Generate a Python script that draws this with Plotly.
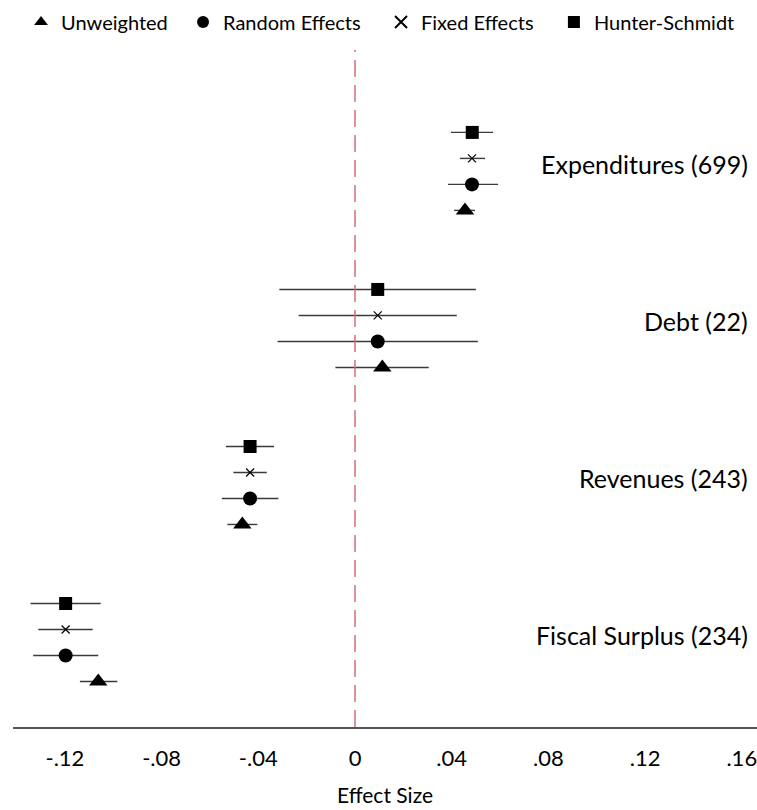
import plotly.graph_objects as go

# ---- data ----
categories = ["Fiscal Surplus (234)", "Revenues (243)", "Debt (22)", "Expenditures (699)"]
methods = ["Unweighted", "Random Effects", "Fixed Effects", "Hunter-Schmidt"]

# point estimates per method, ordered as categories
est = {
    "Unweighted":     [-0.1062, -0.0466, 0.0113, 0.0455],
    "Random Effects": [-0.1197, -0.0434, 0.0094, 0.0484],
    "Fixed Effects":  [-0.1197, -0.0434, 0.0094, 0.0484],
    "Hunter-Schmidt": [-0.1197, -0.0434, 0.0094, 0.0485],
}
lower = {
    "Unweighted":     [-0.1138, -0.0528, -0.0081, 0.0410],
    "Random Effects": [-0.1331, -0.0551, -0.0320, 0.0385],
    "Fixed Effects":  [-0.1310, -0.0503, -0.0233, 0.0434],
    "Hunter-Schmidt": [-0.1342, -0.0534, -0.0313, 0.0397],
}
upper = {
    "Unweighted":     [-0.0983, -0.0404, 0.0305, 0.0496],
    "Random Effects": [-0.1062, -0.0317, 0.0508, 0.0592],
    "Fixed Effects":  [-0.1085, -0.0365, 0.0421, 0.0538],
    "Hunter-Schmidt": [-0.1052, -0.0335, 0.0500, 0.0571],
}
tick_vals = [-0.12, -0.08, -0.04, 0, 0.04, 0.08, 0.12, 0.16]
tick_text = ["-.12", "-.08", "-.04", "0", ".04", ".08", ".12", ".16"]

# ---- styles ----
sym = {"Unweighted": "triangle-up", "Random Effects": "circle",
       "Fixed Effects": "x-thin-open", "Hunter-Schmidt": "square"}
size = {"Unweighted": 16, "Random Effects": 14, "Fixed Effects": 8, "Hunter-Schmidt": 13}
legend_pad = {"Unweighted": 2, "Random Effects": 3, "Fixed Effects": 3, "Hunter-Schmidt": 0}
FONT = "Lato"
GROUP_STEP = 6.04
BASE = 1.75

fig = go.Figure()
for k, m in enumerate(methods):
    ys = [BASE + g * GROUP_STEP + k for g in range(len(categories))]
    xs = est[m]
    plus = [u - x for u, x in zip(upper[m], xs)]
    minus = [x - l for x, l in zip(xs, lower[m])]
    marker = dict(symbol=sym[m], size=size[m], color="black")
    if m == "Fixed Effects":
        marker["line"] = dict(width=1.2, color="black")
    fig.add_trace(go.Scatter(
        x=xs, y=ys, mode="markers", name=m + "\u00a0" * legend_pad[m], marker=marker,
        error_x=dict(type="data", symmetric=False, array=plus, arrayminus=minus,
                     width=0, thickness=1.4, color="#3a3a3a"),
    ))

for g, c in enumerate(categories):
    fig.add_annotation(x=0.9906, xref="paper", y=BASE + g * GROUP_STEP + 1.78, yref="y",
                       text=c, showarrow=False, xanchor="right",
                       font=dict(family=FONT, size=25, color="black"))

fig.add_shape(type="line", x0=0, x1=0, xref="x", y0=0, y1=1, yref="paper",
              line=dict(color="rgb(214,110,122)", width=1.5, dash="17px,8px"))

fig.update_layout(
    width=757, height=810,
    margin=dict(l=13, r=0, t=50, b=83),
    paper_bgcolor="white", plot_bgcolor="white",
    font=dict(family=FONT, size=20, color="black"),
    showlegend=True,
    legend=dict(orientation="h", x=0.0108, xanchor="left", y=1.0414, yanchor="middle",
                font=dict(family=FONT, size=20), itemsizing="constant",
                bgcolor="rgba(0,0,0,0)"),
    xaxis=dict(range=[-0.14147, 0.16629], tickvals=tick_vals, ticktext=tick_text,
               showgrid=False, zeroline=False, showline=True, linecolor="#555555",
               linewidth=1.5, ticks="", ticklen=0, automargin=False,
               ticklabelstandoff=11, ticklabeloverflow="allow",
               tickfont=dict(family=FONT, size=22),
               title=dict(text="Effect Size", font=dict(family=FONT, size=21), standoff=18)),
    yaxis=dict(range=[0, 26.04], showgrid=False, zeroline=False, showline=False,
               showticklabels=False, ticks="", automargin=False),
)

fig.write_html("out.html", config={"displayModeBar": False},
               post_script="document.body.style.margin='0';")
